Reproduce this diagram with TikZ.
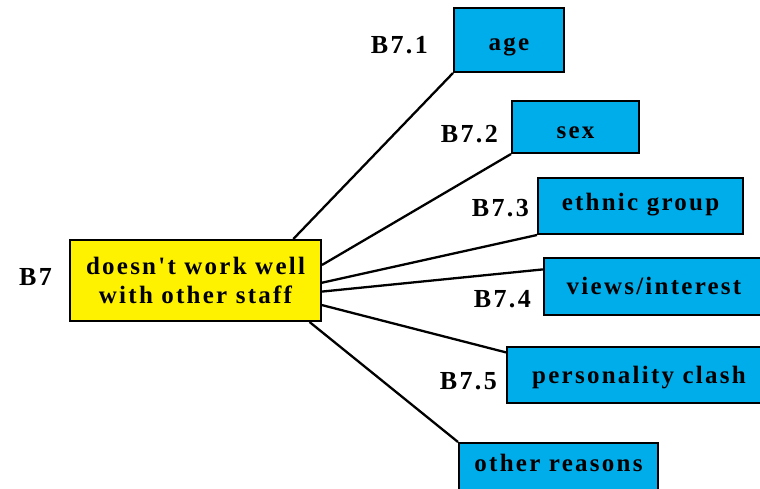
\documentclass[tikz,border=0pt]{standalone}
\usepackage{fontspec}
\newfontfamily\diafont{Liberation Serif}[LetterSpace=9]
\usetikzlibrary{positioning,calc}
\definecolor{boxblue}{RGB}{0,173,235}
\definecolor{boxyellow}{RGB}{255,242,0}

\begin{document}
\begin{tikzpicture}[
  x=1pt, y=-1pt,
  every node/.style={font=\diafont\bfseries\fontsize{25}{29}\selectfont},
  reason/.style={draw, line width=2pt, fill=boxblue, anchor=north west, inner sep=0pt, text height=16pt, text depth=0pt},
  topic/.style={draw, line width=2pt, fill=boxyellow, align=center, anchor=north west, inner sep=0pt, minimum width=251pt, minimum height=81pt},
  code/.style={anchor=base east, inner sep=0pt, font=\diafont\bfseries\fontsize{26}{30}\selectfont},
  link/.style={line width=2.3pt},
]
  \useasboundingbox (0,0) rectangle (760,488);

  \node[topic] (topic) at (69,239) {doesn't work well\\with other staff};

  \node[reason, minimum width=110pt, minimum height=64pt, text height=20pt] (age) at (453,7) {age};
  \node[reason, minimum width=127pt, minimum height=52pt, text height=22pt] (sex) at (511,100) {sex};
  \node[reason, minimum width=205pt, minimum height=56pt, text height=8pt] (ethnic) at (537,177) {ethnic group};
  \node[reason, minimum width=220pt, minimum height=57pt] (views) at (543,257) {views/interest};
  \node[reason, minimum width=264pt, minimum height=56pt] (clash) at (506,346) {personality clash};
  \node[reason, minimum width=199pt, minimum height=52pt, text height=4pt] (other) at (458,442) {other reasons};

  % item codes
  \node[code] (c7) at (52,285) {B7};
  \node[code] (c71) at (428,53) {B7.1};
  \node[code] (c72) at (498,142) {B7.2};
  \node[code] (c73) at (529,216) {B7.3};
  \node[code] (c74) at (531,307) {B7.4};
  \node[code] (c75) at (497,389) {B7.5};

  \draw[link] (topic.23.4) -- (age.south west);
  \draw[link] (topic.7.5) -- (sex.south west);
  \draw[link] (topic.-1.6) -- (ethnic.south west);
  \draw[link] (topic.-5.2) -- ($(views.north west)!0.21!(views.south west)$);
  \draw[link] (topic.-11) -- ($(clash.north west)!0.11!(clash.south west)$);
  \draw[link] (topic.-20.1) -- (other.north west);
\end{tikzpicture}
\end{document}
